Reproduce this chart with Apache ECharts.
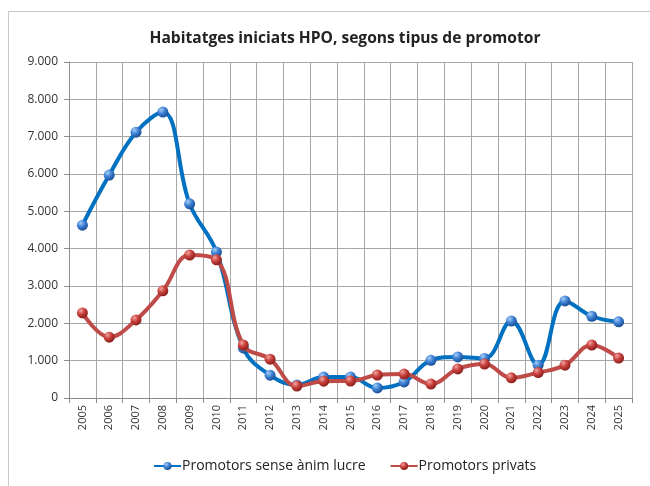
<!DOCTYPE html>
<html>
<head>
<meta charset="utf-8">
<script src="https://cdn.jsdelivr.net/npm/echarts@6/dist/echarts.min.js"></script>
<style>
  html, body { margin: 0; padding: 0; background: #fff; }
  .frame {
    position: absolute; left: 8px; top: 11px; width: 660px; height: 500px;
    border: 1px solid #c8c8c8; box-sizing: border-box;
  }
  #chart { position: absolute; left: 0; top: 0; width: 650px; height: 486px; }
</style>
</head>
<body>
<div class="frame"></div>
<div id="chart"></div>
<script>
const FONT_FAMILY = "'Open Sans', 'Noto Sans', sans-serif"

const years = ['2005', '2006', '2007', '2008', '2009', '2010', '2011', '2012', '2013', '2014', '2015',
  '2016', '2017', '2018', '2019', '2020', '2021', '2022', '2023', '2024', '2025']
const senseAnimLucre = [4630, 5970, 7120, 7660, 5200, 3910, 1340, 610, 350, 560, 560,
  270, 430, 1010, 1100, 1060, 2060, 880, 2600, 2190, 2040]
const privats = [2280, 1630, 2090, 2870, 3830, 3700, 1420, 1040, 320, 450, 455,
  615, 640, 375, 780, 910, 540, 680, 880, 1420, 1070]

const ballBlue = new echarts.graphic.RadialGradient(0.35, 0.3, 0.7, [
  { offset: 0, color: '#a9cdf5' },
  { offset: 0.5, color: '#3d82d6' },
  { offset: 1, color: '#1d4f96' },
])
const ballRed = new echarts.graphic.RadialGradient(0.35, 0.3, 0.7, [
  { offset: 0, color: '#f0a5a3' },
  { offset: 0.5, color: '#c9403c' },
  { offset: 1, color: '#8a201d' },
])

const chart = echarts.init(document.getElementById('chart'))

chart.setOption({
  animation: false,
  title: {
    text: 'Habitatges iniciats HPO, segons tipus de promotor',
    left: 340,
    textAlign: 'center',
    top: 26,
    textStyle: { fontFamily: FONT_FAMILY, fontSize: 15.6, fontWeight: 'bold', color: '#222' },
  },
  grid: { left: 69, right: 18, top: 62, bottom: 88 },
  legend: {
    bottom: 8,
    left: 148,
    itemWidth: 27,
    itemHeight: 10,
    itemGap: 24,
    textStyle: { fontFamily: FONT_FAMILY, fontSize: 14, color: '#222', padding: [0, 0, 0, -4] },
    data: ['Promotors sense ànim lucre', 'Promotors privats'],
  },
  xAxis: {
    type: 'category',
    data: years,
    boundaryGap: true,
    axisLine: { lineStyle: { color: '#8c8c8c' } },
    axisTick: { show: true, length: 5, lineStyle: { color: '#8c8c8c' } },
    axisLabel: { rotate: 90, fontFamily: FONT_FAMILY, fontSize: 11, color: '#333', margin: 7 },
    splitLine: { show: true, lineStyle: { color: '#a6a6a6' } },
  },
  yAxis: {
    type: 'value',
    min: 0,
    max: 9000,
    interval: 1000,
    axisLine: { show: true, lineStyle: { color: '#8c8c8c' } },
    axisTick: { show: true, length: 5, lineStyle: { color: '#8c8c8c' } },
    axisLabel: {
      fontFamily: FONT_FAMILY, fontSize: 12, color: '#333', margin: 11,
      formatter: v => v === 0 ? '0' : (v / 1000).toFixed(0) + '.000',
    },
    splitLine: { lineStyle: { color: '#a6a6a6' } },
  },
  series: [
    {
      name: 'Promotors sense ànim lucre',
      type: 'line',
      data: senseAnimLucre,
      smooth: 0.4,
      symbol: 'circle',
      symbolSize: 11,
      lineStyle: { color: '#0070c0', width: 4 },
      itemStyle: { color: ballBlue, borderWidth: 0 },
      z: 2,
    },
    {
      name: 'Promotors privats',
      type: 'line',
      data: privats,
      smooth: 0.4,
      symbol: 'circle',
      symbolSize: 11,
      lineStyle: { color: '#be4b48', width: 4 },
      itemStyle: { color: ballRed, borderWidth: 0 },
      z: 3,
    },
  ],
})
</script>
</body>
</html>
